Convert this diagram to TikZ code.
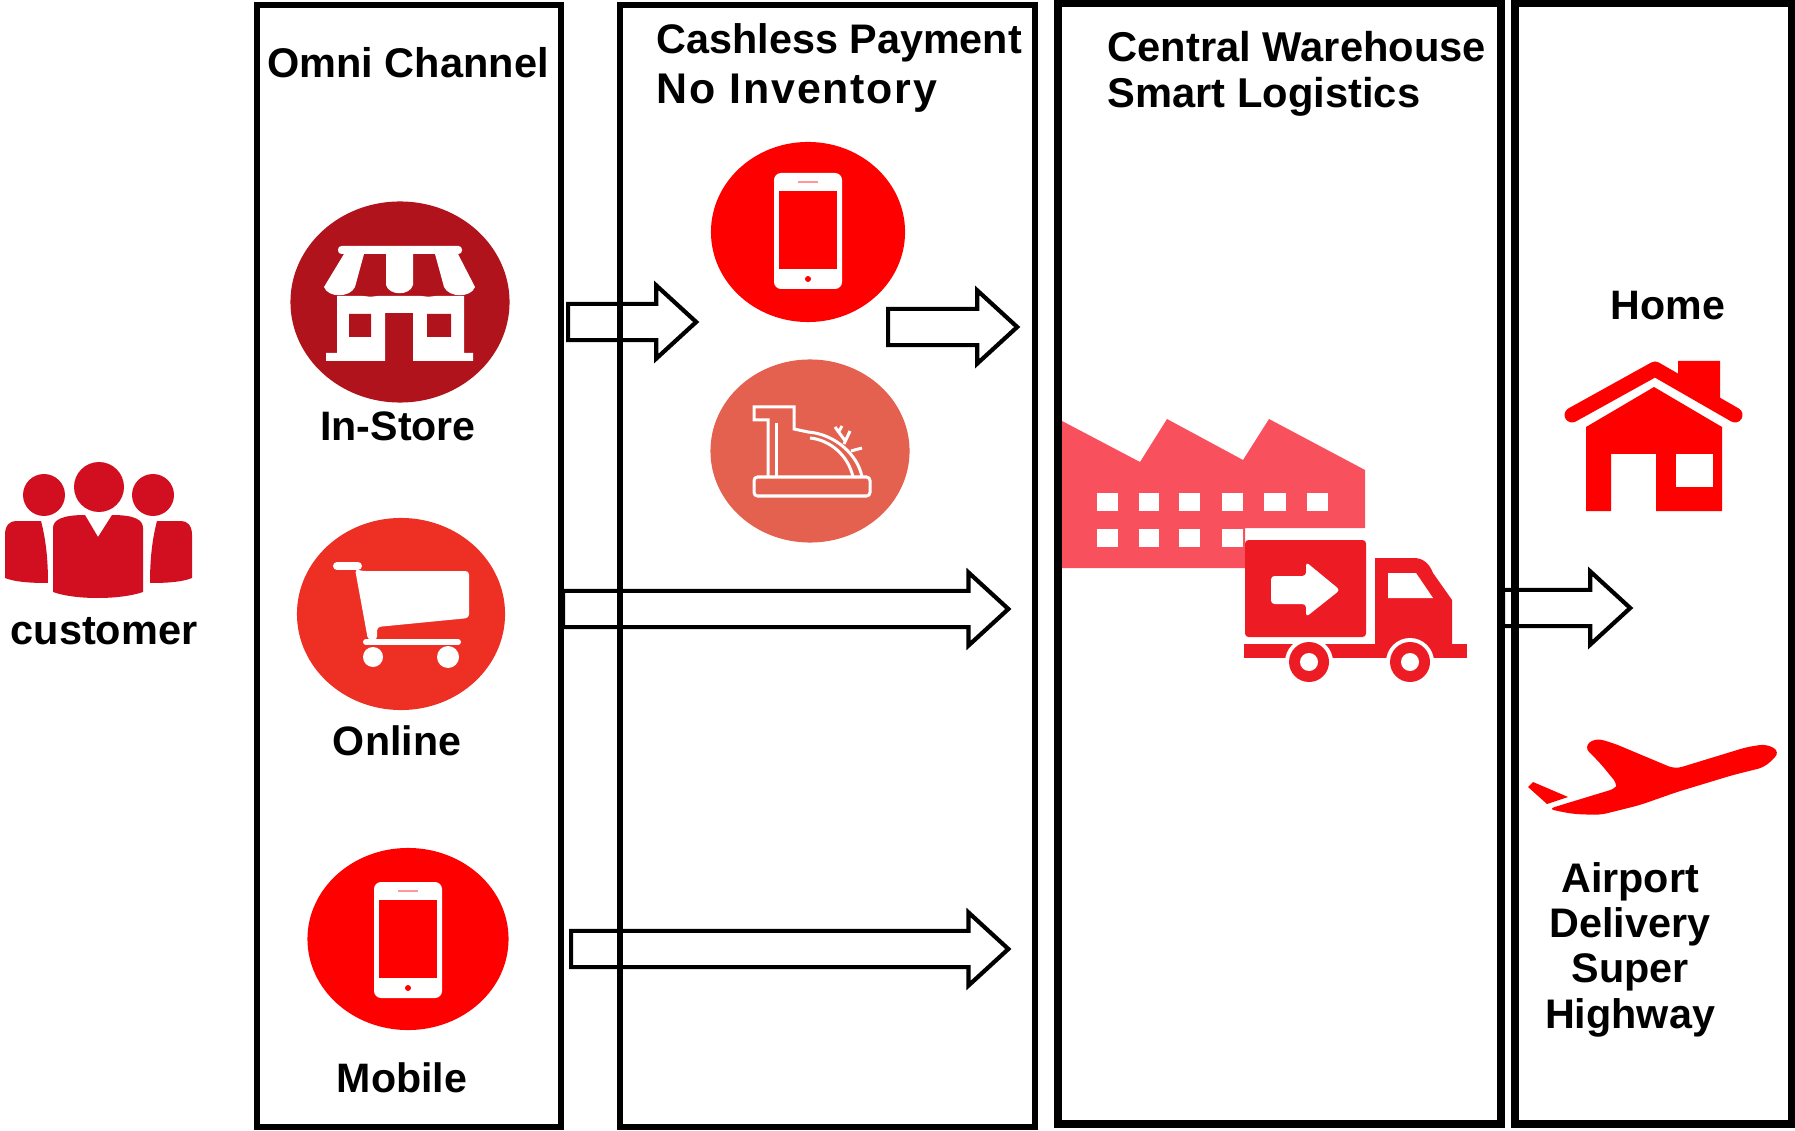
\documentclass[tikz,border=0pt]{standalone}
\usepackage{fontspec}
\setmainfont{Liberation Sans}
\usepackage{tikz}
\usetikzlibrary{shapes.geometric,shapes.arrows}
\definecolor{storered}{HTML}{B0131B}
\definecolor{purered}{HTML}{FF0000}
\definecolor{tillred}{HTML}{E4604F}
\definecolor{cartred}{HTML}{EE2F24}
\definecolor{crowdred}{HTML}{D20F20}
\definecolor{plantred}{HTML}{F9505E}
\definecolor{truckred}{HTML}{ED1C24}

\begin{document}
\begin{tikzpicture}[
  x=0.01cm, y=-0.01cm,
  col/.style={draw, line width=0.055cm, minimum height=11.21cm, inner sep=0pt},
  badge/.style={ellipse, inner sep=0pt},
  blockarr/.style={single arrow, draw, line width=0.042cm, anchor=tail,
              inner sep=0.16cm, inner xsep=0pt, single arrow head extend=0.185cm,
              single arrow tip angle=85},
  lbl/.style={font=\fontsize{11.7}{13.8}\selectfont\bfseries, inner sep=0pt},
  thinw/.style={white, line width=0.03cm}
]
\useasboundingbox (0,0) rectangle (1795,1131);
% Columns
\node[col, minimum width=3.04cm] (omni) at (409,566) {};
\node[col, minimum width=4.15cm] (cash) at (827.5,566) {};
\node[col, minimum width=4.43cm, line width=0.08cm] (ware) at (1279.5,563.5) {};
\node[col, minimum width=2.77cm, line width=0.08cm] (last) at (1653.5,563.5) {};
% Headings
\node[lbl, font=\fontsize{11.8}{13.8}\selectfont\bfseries] (omnitxt) at (408,63) {Omni Channel};
\node[lbl, align=left, anchor=west, font=\fontsize{11.75}{14.2}\selectfont\bfseries]
  (cashtxt) at (656,68) {Cashless Payment\\{\fontsize{12.2}{14.2}\selectfont\addfontfeature{LetterSpace=4.3}No Inventory}};
\node[lbl, align=left, anchor=west, font=\fontsize{11.85}{13}\selectfont\bfseries]
  (waretxt) at (1107,73.5) {Central Warehouse\\Smart Logistics};
% Customer
\fill[crowdred] (99,487) circle (25) (44,495) circle (21) (153,495) circle (21);
\fill[crowdred] (53,528) .. controls (53,520) and (62,515) .. (85,515) -- (98,537) -- (112,515)
  .. controls (135,515) and (143,520) .. (143,528) -- (143,592)
  .. controls (120,600) and (75,600) .. (53,592) -- cycle;
\fill[crowdred] (5,535) .. controls (5,525) and (10,521) .. (16,521) -- (41,521)
  .. controls (46,540) and (48,560) .. (48,583) .. controls (30,583) and (15,582) .. (5,578) -- cycle;
\fill[crowdred] (192,535) .. controls (192,525) and (187,521) .. (181,521) -- (157,521)
  .. controls (152,540) and (150,560) .. (150,583) .. controls (168,583) and (182,582) .. (192,578) -- cycle;
\node[lbl, font=\fontsize{11.8}{13.8}\selectfont\bfseries] (custtxt) at (104,631) {customer};
% In-Store
\node[badge, fill=storered, minimum width=2.19cm, minimum height=2.01cm] (store) at (400,302) {};
\fill[white, rounded corners=1pt] (338,246) rectangle (462,254);
\fill[white] (344,254) -- (364,254) -- (355,287) .. controls (350,298) and (328,298) .. (324,287) -- cycle;
\fill[white] (386,254) -- (413,254) -- (413,285) .. controls (410,296) and (389,296) .. (386,285) -- cycle;
\fill[white] (435,254) -- (458,254) -- (475,287) .. controls (471,298) and (449,298) .. (444,287) -- cycle;
\fill[white] (337,296) -- (464,296) -- (464,353) -- (473,353) -- (473,361) -- (413,361)
  -- (413,313) -- (385,313) -- (385,361) -- (326,361) -- (326,353) -- (337,353) -- cycle;
\fill[storered] (355,287) .. controls (358,300) and (383,300) .. (386,287) -- cycle
  (413,287) .. controls (416,300) and (441,300) .. (444,287) -- cycle;
\fill[storered] (349,314) rectangle (371,337) (427,314) rectangle (451,337);
\node[lbl] (storetxt) at (398,426) {In-Store};
% Online
\node[badge, fill=cartred, minimum width=2.08cm, minimum height=1.92cm] (online) at (401,614) {};
\draw[white, line width=0.08cm, line cap=round] (337,566) -- (358,566);
\fill[white, rounded corners=1pt] (355,569) -- (362,571) -- (469,571) -- (469,618) -- (377,627) -- (377,640) -- (368,640) -- cycle;
\draw[white, line width=0.06cm, line cap=round] (366,642) -- (458,642);
\fill[white] (373,657) circle (10) (448,657) circle (11);
\node[lbl] (onlinetxt) at (397,741) {Online};
% Mobile and the phone payment
\node[badge, fill=purered, minimum width=2.01cm, minimum height=1.82cm] (mobile) at (408,939) {};
\node[lbl] (mobiletxt) at (402,1078) {Mobile};
\node[badge, fill=purered, minimum width=1.94cm, minimum height=1.80cm] (phone) at (808,232) {};
\foreach \cx/\cy in {808/231,408/940} {
  \fill[white, rounded corners=2pt] (\cx-34,\cy-58) rectangle (\cx+34,\cy+58);
  \fill[purered] (\cx-29,\cy-40) rectangle (\cx+29,\cy+38);
  \draw[purered!40, line width=0.02cm] (\cx-10,\cy-49) -- (\cx+10,\cy-49);
  \fill[purered] (\cx,\cy+48) circle (3);
}
% Cash register
\node[badge, fill=tillred, minimum width=1.99cm, minimum height=1.83cm] (till) at (810,451) {};
\draw[thinw, rounded corners=1pt] (754,477) rectangle (870,496);
\draw[thinw] (768,477) -- (768,420) -- (754,420) -- (754,407) -- (794,407) -- (794,429) -- (808,432)
  .. controls (835,434) and (858,455) .. (862,477);
\draw[thinw] (776,477) -- (776,423);
\draw[thinw] (810,438) .. controls (830,440) and (848,455) .. (853,477);
\draw[thinw] (835,427) -- (846,442) (850,431) -- (844,444) (862,448) -- (851,451) (842,426) -- (838,433);
% Block arrows
\node[blockarr, minimum height=1.28cm] (arra) at (566,322) {};
\node[blockarr, minimum height=1.29cm] (arrb) at (886,327) {};
\node[blockarr, minimum height=4.45cm] (arrc) at (561,609) {};
\node[blockarr, minimum height=4.37cm] (arrd) at (569,949) {};
\node[blockarr, minimum height=1.27cm] (arre) at (1501,608) {};
% Warehouse
\fill[plantred] (1062,421) -- (1140,462) -- (1167,419) -- (1243,460) -- (1269,419) -- (1365,470)
  -- (1365,528) -- (1245,528) -- (1245,568) -- (1062,568) -- cycle;
\foreach \wx/\wd in {1097/21,1139/20,1179/21,1222/21,1264/22,1307/21}
  \fill[white] (\wx,493) rectangle ++(\wd,18);
\foreach \wx/\wd in {1097/21,1139/20,1179/21,1222/21}
  \fill[white] (\wx,529) rectangle ++(\wd,18);
% Truck
\fill[truckred, rounded corners=1pt] (1245,540) rectangle (1366,637);
\fill[white, rounded corners=1pt] (1271,576) -- (1306,576) -- (1306,562) -- (1340,590) -- (1306,617) -- (1306,604) -- (1271,604) -- cycle;
\fill[truckred] (1375,645) -- (1375,558) -- (1414,558) .. controls (1424,558) and (1430,565) .. (1433,573)
  -- (1452,600) -- (1452,645) -- cycle;
\fill[white] (1388,573) -- (1416,573) -- (1433,598) -- (1388,598) -- cycle;
\fill[truckred] (1244,644) rectangle (1467,658);
\foreach \tx in {1309,1410} {
  \fill[white] (\tx,662) circle (24);
  \fill[truckred] (\tx,662) circle (20);
  \fill[white] (\tx,662) circle (9);
}
% Home
\node[lbl] (hometxt) at (1668,306) {Home};
\fill[purered] (1678,361) -- (1720,361) -- (1720,402) -- (1678,380) -- cycle;
\draw[purered, line width=0.15cm, line cap=round, line join=round] (1572,415) -- (1655,369) -- (1735,415);
\fill[purered] (1586,427) -- (1654,387) -- (1722,427) -- (1722,511) -- (1656,511) -- (1656,454)
  -- (1611,454) -- (1611,511) -- (1586,511) -- cycle;
\fill[white] (1676,454) rectangle (1713,487);
% Plane
\fill[purered, rounded corners=2pt] (1548,809) -- (1617,788) -- (1618,785) -- (1600,763) -- (1584,747) -- (1595,738)
  -- (1613,743) -- (1675,769) -- (1747,747) -- (1767,744) -- (1780,752) -- (1765,767) -- (1733,775)
  -- (1677,792) -- (1640,805) -- (1600,815) -- (1573,814) -- cycle;
\fill[purered] (1528,787) -- (1533,782) -- (1568,797) -- (1547,804) -- cycle;
\node[lbl, align=center, font=\fontsize{11.75}{12.9}\selectfont\bfseries]
  (airtxt) at (1630,949.5) {Airport\\Delivery\\Super\\Highway};
\end{tikzpicture}
\end{document}
